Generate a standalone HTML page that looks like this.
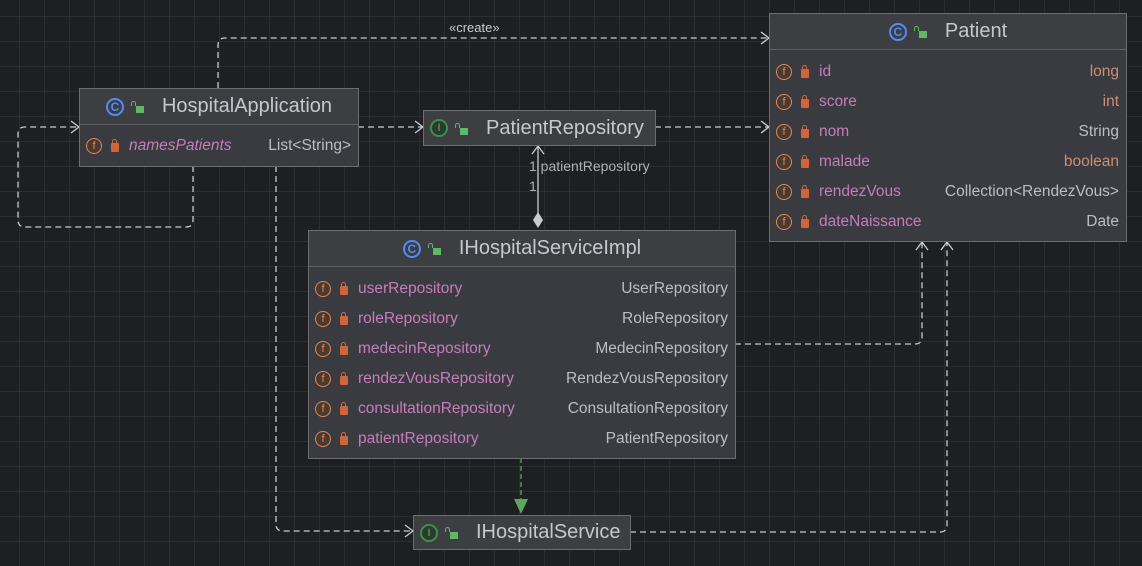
<!DOCTYPE html>
<html><head><meta charset="utf-8"><style>
*{margin:0;padding:0;box-sizing:border-box}
body{width:1142px;height:566px;overflow:hidden;background:#1e1f22;font-family:"Liberation Sans",sans-serif;position:relative}
.box{position:absolute;background:#393b40;border:1px solid #6b6d70}
.hd{height:36px;background:#3c3e41;border-bottom:1px solid #5e6063;display:flex;align-items:center;justify-content:center;color:#c5c8ce;font-size:20px}
.row{height:30px;display:flex;align-items:center;padding:0 7px 0 6px;font-size:15.5px}
.n{color:#c77dbb;flex:1;margin-left:10px}
.t{color:#bcbec4}
.o{color:#cf8e6d}
.f{width:16px;height:16px;border-radius:50%;border:1.5px solid #e08855;color:#e08855;font-size:11px;display:inline-flex;align-items:center;justify-content:center;background:#4a3a30}
.lk{width:8px;height:9px;background:#d0653a;border-radius:1px;margin-left:9px;position:relative;margin-top:3px}
.lk:before{content:"";position:absolute;left:1px;top:-4px;width:3px;height:4px;border:1.5px solid #d0653a;border-bottom:none;border-radius:3px 3px 0 0}
.ci{width:18px;height:18px;border-radius:50%;border:2px solid #548af7;color:#548af7;font-size:12px;display:inline-flex;align-items:center;justify-content:center;font-weight:bold}
.ii{width:18px;height:18px;border-radius:50%;border:2px solid #3e8f4e;color:#5fb865;font-size:11px;display:inline-flex;align-items:center;justify-content:center;background:#2a3a2c}
.ul{width:8px;height:7px;background:#5fb865;margin:6px 18px 0 12px;position:relative}
.ul:before{content:"";position:absolute;left:-5px;top:-5px;width:3px;height:4px;border:1.5px solid #5fb865;border-bottom:none;border-radius:3px 3px 0 0}
.sh{position:absolute;display:flex;align-items:center;color:#c5c8ce;font-size:20px;background:#3c3e41;border:1px solid #6b6d70;padding-left:6px}
</style></head><body>
<svg width="1142" height="566" style="position:absolute;left:0;top:0">
<defs>
<pattern id="g" x="19" y="16" width="25" height="25" patternUnits="userSpaceOnUse"><path d="M0 0H25M0 0V25" stroke="#2e3033" stroke-width="1.5" fill="none"/></pattern>
</defs>
<rect width="1142" height="566" fill="url(#g)"/>
<g fill="none" stroke="#c9cbcf" stroke-width="1.3" stroke-dasharray="6 4">
<path d="M218 88V45Q218 38 225 38H768"/>
<path d="M193 166V220Q193 227 186 227H25Q18 227 18 220V134Q18 127 25 127H78"/>
<path d="M358 127H422"/>
<path d="M655 127H768"/>
<path d="M276 166V524Q276 531 283 531H412"/>
<path d="M735 344H915Q922 344 922 337V242"/>
<path d="M630 532H940Q947 532 947 525V242"/>
</g>
<g fill="none" stroke="#c9cbcf" stroke-width="1.3">
<path d="M761 32L769 38L761 44"/>
<path d="M71 121L79 127L71 133"/>
<path d="M415 121L423 127L415 133"/>
<path d="M761 121L769 127L761 133"/>
<path d="M405 525L413 531L405 537"/>
<path d="M916 250L922 242L928 250"/>
<path d="M941 250L947 242L953 250"/>
<path d="M532 154L538 146L544 154"/>
<path d="M538 146V213"/>
</g>
<path d="M538 212L543 220L538 228L533 220Z" fill="#c9cbcf"/>
<path d="M521 458V500" stroke="#5fa55f" stroke-width="1.3" stroke-dasharray="5 3"/>
<path d="M514 499H528L521 514Z" fill="#5fa55f"/>
<text x="449" y="32" fill="#c9cbcf" font-size="13" font-family="Liberation Sans">«create»</text>
<text x="529" y="171" fill="#aeb0b4" font-size="14" font-family="Liberation Sans">1 patientRepository</text>
<text x="529" y="191" fill="#aeb0b4" font-size="14" font-family="Liberation Sans">1</text>
</svg>

<div class="box" style="left:79px;top:88px;width:280px;height:79px">
<div class="hd"><span class="ci">C</span><span class="ul"></span>HospitalApplication</div>
<div class="row" style="height:42px"><span class="f">f</span><span class="lk"></span><span class="n" style="font-style:italic;margin-left:10px">namesPatients</span><span class="t">List&lt;String&gt;</span></div>
</div>

<div class="sh" style="left:423px;top:110px;width:233px;height:36px"><span class="ii">I</span><span class="ul"></span>PatientRepository</div>
<div class="sh" style="left:413px;top:515px;width:218px;height:35px"><span class="ii">I</span><span class="ul"></span>IHospitalService</div>

<div class="box" style="left:769px;top:13px;width:358px;height:229px">
<div class="hd"><span class="ci">C</span><span class="ul"></span>Patient</div>
<div style="padding-top:7px">
<div class="row"><span class="f">f</span><span class="lk"></span><span class="n">id</span><span class="o">long</span></div>
<div class="row"><span class="f">f</span><span class="lk"></span><span class="n">score</span><span class="o">int</span></div>
<div class="row"><span class="f">f</span><span class="lk"></span><span class="n">nom</span><span class="t">String</span></div>
<div class="row"><span class="f">f</span><span class="lk"></span><span class="n">malade</span><span class="o">boolean</span></div>
<div class="row"><span class="f">f</span><span class="lk"></span><span class="n">rendezVous</span><span class="t">Collection&lt;RendezVous&gt;</span></div>
<div class="row"><span class="f">f</span><span class="lk"></span><span class="n">dateNaissance</span><span class="t">Date</span></div>
</div></div>

<div class="box" style="left:308px;top:230px;width:428px;height:229px">
<div class="hd"><span class="ci">C</span><span class="ul"></span>IHospitalServiceImpl</div>
<div style="padding-top:7px">
<div class="row"><span class="f">f</span><span class="lk"></span><span class="n">userRepository</span><span class="t">UserRepository</span></div>
<div class="row"><span class="f">f</span><span class="lk"></span><span class="n">roleRepository</span><span class="t">RoleRepository</span></div>
<div class="row"><span class="f">f</span><span class="lk"></span><span class="n">medecinRepository</span><span class="t">MedecinRepository</span></div>
<div class="row"><span class="f">f</span><span class="lk"></span><span class="n">rendezVousRepository</span><span class="t">RendezVousRepository</span></div>
<div class="row"><span class="f">f</span><span class="lk"></span><span class="n">consultationRepository</span><span class="t">ConsultationRepository</span></div>
<div class="row"><span class="f">f</span><span class="lk"></span><span class="n">patientRepository</span><span class="t">PatientRepository</span></div>
</div></div>
</body></html>
